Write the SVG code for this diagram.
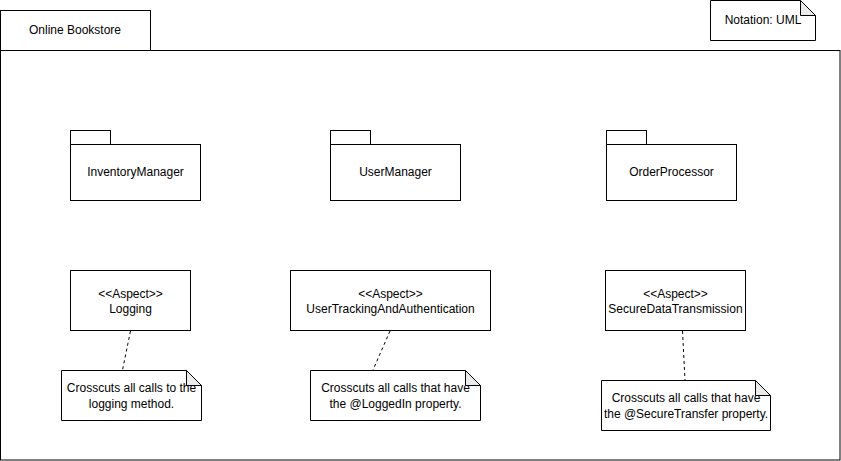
<svg xmlns="http://www.w3.org/2000/svg" width="841" height="461" viewBox="0 0 841 461">
<style>
.s{fill:#fff;stroke:#000;stroke-width:1}
.fold{fill:#ebebeb;stroke:#000;stroke-width:1}
.t{font-family:"Liberation Sans",Arial,sans-serif;font-size:12px;fill:#000;text-anchor:middle}
.d{stroke:#000;stroke-width:1;stroke-dasharray:3 3;fill:none}
</style>
<rect width="841" height="461" fill="#fff"/>
<g id="frame">
<rect class="s" x="0.5" y="10.5" width="150" height="40"/>
<rect class="s" x="0.5" y="50.5" width="839.5" height="409.5"/>
<text class="t" x="75" y="34">Online Bookstore</text>
</g>
<g id="notation">
<path class="s" d="M710.5 0.5 H800.5 L815.5 15.5 V40.5 H710.5 Z"/>
<path class="fold" d="M800.5 0.5 V15.5 H815.5 Z"/>
<text class="t" x="763" y="24">Notation: UML</text>
</g>
<g id="InventoryManager">
<rect class="s" x="70.5" y="130.5" width="40" height="14"/>
<rect class="s" x="70.5" y="144.5" width="130" height="56"/>
<text class="t" x="135.5" y="176">InventoryManager</text>
</g>
<g id="UserManager">
<rect class="s" x="330.5" y="130.5" width="40" height="14"/>
<rect class="s" x="330.5" y="144.5" width="130" height="56"/>
<text class="t" x="395.5" y="176">UserManager</text>
</g>
<g id="OrderProcessor">
<rect class="s" x="606.5" y="130.5" width="40" height="14"/>
<rect class="s" x="606.5" y="144.5" width="130" height="56"/>
<text class="t" x="671.5" y="176">OrderProcessor</text>
</g>
<g id="Logging">
<rect class="s" x="70.5" y="270.5" width="120" height="60"/>
<text class="t" x="130.5" y="298">&lt;&lt;Aspect&gt;&gt;</text>
<text class="t" x="130.5" y="313">Logging</text>
</g>
<g id="UserTrackingAndAuthentication">
<rect class="s" x="290.5" y="270.5" width="200" height="60"/>
<text class="t" x="390.5" y="298">&lt;&lt;Aspect&gt;&gt;</text>
<text class="t" x="390.5" y="313">UserTrackingAndAuthentication</text>
</g>
<g id="SecureDataTransmission">
<rect class="s" x="605.5" y="270.5" width="140" height="60"/>
<text class="t" x="675.5" y="298">&lt;&lt;Aspect&gt;&gt;</text>
<text class="t" x="675.5" y="313">SecureDataTransmission</text>
</g>
<g id="connectors">
<line class="d" x1="130.5" y1="331" x2="122.5" y2="370"/>
<line class="d" x1="390" y1="331" x2="373" y2="370"/>
<line class="d" x1="682.5" y1="331" x2="685" y2="380"/>
</g>
<g id="note1">
<path class="s" d="M61.5 370.5 H186.5 L201.5 385.5 V420.5 H61.5 Z"/>
<path class="fold" d="M186.5 370.5 V385.5 H201.5 Z"/>
<text class="t" x="131.5" y="392">Crosscuts all calls to the</text>
<text class="t" x="131.5" y="408">logging method.</text>
</g>
<g id="note2">
<path class="s" d="M310.5 370.5 H465.5 L480.5 385.5 V420.5 H310.5 Z"/>
<path class="fold" d="M465.5 370.5 V385.5 H480.5 Z"/>
<text class="t" x="395.5" y="392">Crosscuts all calls that have</text>
<text class="t" x="395.5" y="408">the @LoggedIn property.</text>
</g>
<g id="note3">
<path class="s" d="M601.5 380.5 H755.5 L770.5 395.5 V430.5 H601.5 Z"/>
<path class="fold" d="M755.5 380.5 V395.5 H770.5 Z"/>
<text class="t" x="686" y="402">Crosscuts all calls that have</text>
<text class="t" x="686" y="418">the @SecureTransfer property.</text>
</g>
</svg>
